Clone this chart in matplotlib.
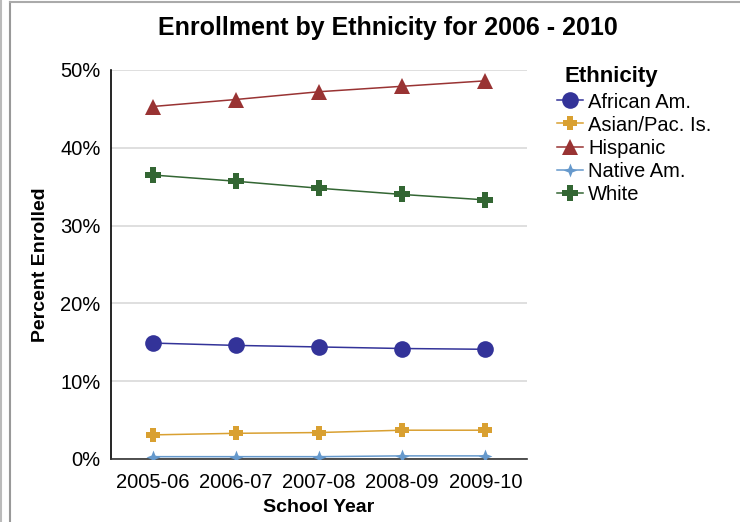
import matplotlib
matplotlib.use("Agg")
import matplotlib.pyplot as plt
from matplotlib.path import Path
from matplotlib.ticker import PercentFormatter
from matplotlib.lines import Line2D

plt.rcParams['font.family'] = ['Liberation Sans', 'DejaVu Sans']

years = ["2005-06", "2006-07", "2007-08", "2008-09", "2009-10"]
african_am = [14.9, 14.6, 14.4, 14.2, 14.1]
asian_pac = [3.1, 3.3, 3.4, 3.7, 3.7]
hispanic = [45.3, 46.2, 47.2, 47.9, 48.6]
native_am = [0.3, 0.3, 0.3, 0.4, 0.4]
white = [36.5, 35.7, 34.8, 34.0, 33.3]

# four-pointed star with concave sides
s = 0.28
star4 = Path([(0, 1), (s, s), (1, 0), (s, -s), (0, -1), (-s, -s), (-1, 0), (-s, s), (0, 1)],
             [Path.MOVETO] + [Path.LINETO] * 7 + [Path.CLOSEPOLY])

# chunky plus sign
a = 0.42
plus = Path([(-a, 1), (a, 1), (a, a), (1, a), (1, -a), (a, -a), (a, -1), (-a, -1),
             (-a, -a), (-1, -a), (-1, a), (-a, a), (-a, 1)],
            [Path.MOVETO] + [Path.LINETO] * 11 + [Path.CLOSEPOLY])

series = [
    ("African Am.", african_am, "#333399", "o", 12),
    ("Asian/Pac. Is.", asian_pac, "#D9A031", plus, 10),
    ("Hispanic", hispanic, "#993333", "^", 11.5),
    ("Native Am.", native_am, "#6699CC", star4, 10),
    ("White", white, "#336633", plus, 11.5),
]

fig = plt.figure(figsize=(7.4, 5.22), dpi=100)
ax = fig.add_axes([0.15, 0.1207, 0.562, 0.7453])

x = list(range(len(years)))
handles = []
for name, vals, color, marker, ms in series:
    ln, = ax.plot(x, vals, color=color, lw=1.1, marker=marker, markersize=ms,
                  markeredgewidth=0, label=name, zorder=3)
    handles.append(ln)

ax.set_xlim(-0.5, 4.5)
ax.set_ylim(0, 50)
ax.set_yticks([0, 10, 20, 30, 40, 50])
ax.yaxis.set_major_formatter(PercentFormatter(decimals=0))
ax.set_xticks(x)
ax.set_xticklabels(years)
ax.tick_params(axis='both', labelsize=14.5, length=0)
ax.tick_params(axis='x', pad=10)
ax.tick_params(axis='y', pad=7.5)
ax.grid(axis='y', color='#D9D9D9', lw=1.2)
ax.set_axisbelow(True)
for side in ("top", "right"):
    ax.spines[side].set_visible(False)
ax.spines['left'].set_color('black')
ax.spines['bottom'].set_color('#333333')
ax.spines['left'].set_linewidth(1.2)
ax.spines['bottom'].set_linewidth(1.2)

ax.set_xlabel("School Year", fontsize=14, fontweight='bold', labelpad=5)
ax.set_ylabel("Percent Enrolled", fontsize=14, fontweight='bold', labelpad=8)

fig.text(0.524, 0.946, "Enrollment by Ethnicity for 2006 - 2010", ha='center', va='center',
         fontsize=18, fontweight='bold')

# legend heading
fig.text(565 / 740, 1 - 76.5 / 522, "Ethnicity", ha='left', va='center',
         fontsize=16, fontweight='bold')

leg = ax.legend(handles=handles, loc='upper left',
                bbox_to_anchor=(1.072, 0.942), frameon=False, fontsize=14.5,
                handlelength=1.3, handletextpad=0.25, labelspacing=0.2,
                borderpad=0, borderaxespad=0)

# thin grey frame lines at the left and top edges
fig.add_artist(Line2D([9.5 / 740, 9.5 / 740], [0, 1 - 2 / 522], transform=fig.transFigure,
                      color='#999999', lw=1.5))
fig.add_artist(Line2D([9.5 / 740, 1], [1 - 2 / 522, 1 - 2 / 522], transform=fig.transFigure,
                      color='#AAAAAA', lw=1.5))
fig.add_artist(Line2D([0.5 / 740, 0.5 / 740], [0, 1], transform=fig.transFigure,
                      color='#BBBBBB', lw=1.5))

fig.savefig("out.png", dpi=100)
